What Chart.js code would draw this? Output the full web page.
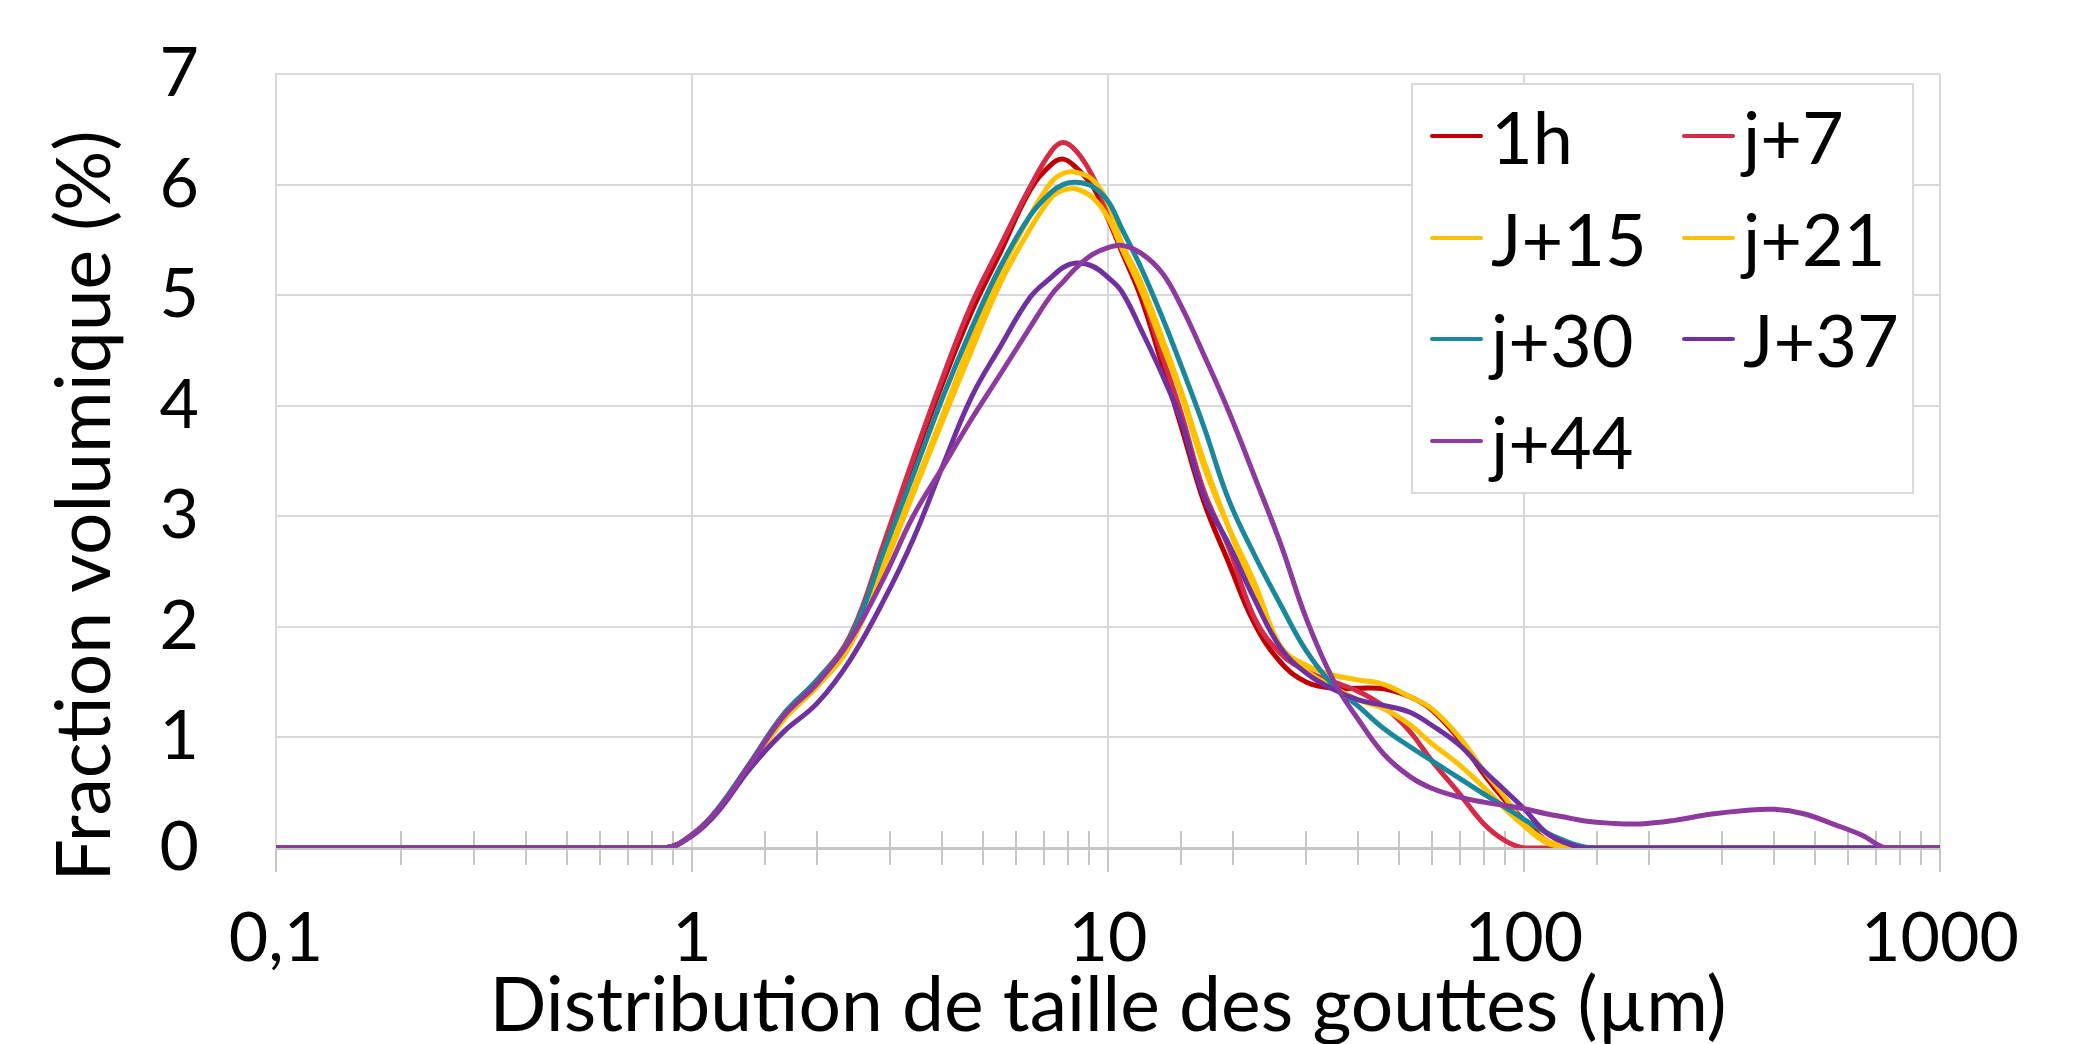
<!DOCTYPE html>
<html lang="fr">
<head>
  <meta charset="utf-8">
  <title>Distribution de taille des gouttes</title>
  <script type="text/javascript" src="https://cdn.jsdelivr.net/npm/chart.js@4"></script>
  <style type="text/css">
    html, body { margin:0; padding:0; background:#fff; }
    #wrap { position:relative; width:2082px; height:1044px; overflow:hidden; }
    #legend { position:absolute; left:1411px; top:83px; width:499px; height:407px; border:2px solid #D9D9D9; background:#fff;
              display:grid; grid-template-columns:252px 1fr; grid-auto-rows:101.75px; font-family:Lato; font-size:72px; color:#000; }
    .item { display:flex; align-items:center; padding-left:17px; white-space:nowrap; }
    .swatch { display:inline-block; width:53px; height:4px; border-radius:2px; margin-right:8px; }
  </style>
</head>
<body>
<div id="wrap">
  <canvas id="chart" width="2082" height="1044"></canvas>
  <div id="legend"></div>
</div>

<script type="text/javascript">
  // taille des gouttes (µm)
  const tailles = [0.1, 0.5, 0.86, 1, 1.15, 1.38, 1.66, 2, 2.4, 2.9,
    3.4, 4, 4.7, 5.5, 6.5, 7.3, 7.8, 8.4, 9.2, 10,
    10.8, 12, 13.5, 15, 17, 19.5, 22.5, 26, 30, 35,
    40, 46, 53, 60, 70, 80, 90, 100, 113, 125,
    140, 160, 190, 230, 280, 340, 400, 470, 560, 650, 745, 1000];

  // fraction volumique (%)
  const h1 = [0, 0, 0, 0.12, 0.34, 0.76, 1.2, 1.5, 1.9, 2.74,
    3.48, 4.2, 4.85, 5.38, 5.95, 6.18, 6.23, 6.15, 5.98, 5.69,
    5.39, 4.98, 4.37, 3.81, 3.13, 2.58, 2.03, 1.68, 1.5, 1.445,
    1.445, 1.44, 1.37, 1.25, 0.98, 0.67, 0.43, 0.25, 0.07, 0.01,
    0, 0, 0, 0, 0, 0, 0, 0, 0, 0, 0, 0];
  const j7 = [0, 0, 0, 0.12, 0.34, 0.77, 1.21, 1.52, 1.92, 2.77,
    3.52, 4.25, 4.92, 5.44, 5.98, 6.3, 6.38, 6.3, 6.07, 5.75,
    5.45, 5.04, 4.45, 3.93, 3.23, 2.72, 2.08, 1.76, 1.6, 1.5,
    1.415, 1.28, 1.06, 0.79, 0.49, 0.22, 0.067, 0, 0, 0,
    0, 0, 0, 0, 0, 0, 0, 0, 0, 0, 0, 0];
  const j15 = [0, 0, 0, 0.12, 0.34, 0.74, 1.16, 1.47, 1.85, 2.6,
    3.24, 3.91, 4.6, 5.2, 5.72, 6.02, 6.1, 6.11, 6.04, 5.83,
    5.47, 5.12, 4.61, 4.13, 3.5, 2.9, 2.3, 1.82, 1.65, 1.56,
    1.52, 1.48, 1.37, 1.26, 1.0, 0.7, 0.46, 0.22, 0.07, 0.02,
    0, 0, 0, 0, 0, 0, 0, 0, 0, 0, 0, 0];
  const j21 = [0, 0, 0, 0.12, 0.34, 0.74, 1.16, 1.46, 1.83, 2.55,
    3.2, 3.86, 4.5, 5.1, 5.6, 5.88, 5.95, 5.96, 5.88, 5.7,
    5.42, 5.05, 4.55, 4.1, 3.45, 2.9, 2.4, 1.82, 1.6, 1.45,
    1.34, 1.26, 1.12, 0.945, 0.75, 0.55, 0.355, 0.2, 0.05, 0.01,
    0, 0, 0, 0, 0, 0, 0, 0, 0, 0, 0, 0];
  const j30 = [0, 0, 0, 0.12, 0.35, 0.77, 1.21, 1.52, 1.9, 2.7,
    3.37, 4.07, 4.7, 5.25, 5.72, 5.93, 6.0, 6.02, 5.98, 5.85,
    5.6, 5.25, 4.8, 4.36, 3.81, 3.15, 2.65, 2.2, 1.78, 1.46,
    1.28, 1.08, 0.92, 0.79, 0.63, 0.49, 0.37, 0.26, 0.14, 0.067,
    0.01, 0, 0, 0, 0, 0, 0, 0, 0, 0, 0, 0];
  const j37 = [0, 0, 0, 0.11, 0.32, 0.72, 1.05, 1.31, 1.7, 2.25,
    2.79, 3.45, 4.08, 4.53, 4.98, 5.16, 5.25, 5.29, 5.26, 5.16,
    5.03, 4.69, 4.28, 3.86, 3.18, 2.75, 2.25, 1.81, 1.58, 1.43,
    1.34, 1.29, 1.23, 1.11, 0.93, 0.7, 0.52, 0.355, 0.14, 0.05,
    0, 0, 0, 0, 0, 0, 0, 0, 0, 0, 0, 0];
  const j44 = [0, 0, 0, 0.12, 0.34, 0.76, 1.19, 1.49, 1.88, 2.45,
    3.0, 3.44, 3.88, 4.28, 4.71, 5.0, 5.12, 5.25, 5.37, 5.43,
    5.45, 5.38, 5.2, 4.9, 4.46, 3.95, 3.36, 2.75, 2.07, 1.5,
    1.16, 0.85, 0.65, 0.54, 0.46, 0.415, 0.385, 0.355, 0.31, 0.28,
    0.245, 0.225, 0.218, 0.25, 0.305, 0.34, 0.35, 0.31, 0.21, 0.115, 0, 0];

  const labels = ['1h', 'j+7', 'J+15', 'j+21', 'j+30', 'J+37', 'j+44'];
  const values = [h1, j7, j15, j21, j30, j37, j44];
  const colors = ['#C00000', '#D62B48', '#FFC000', '#FFC000', '#1A889C', '#7030A0', '#8E399D'];

  const FONT = 'Lato';
  const isDecade = v => Math.abs(Math.log10(v) - Math.round(Math.log10(v))) < 1e-9;

  // petites graduations de l'axe des x, de part et d'autre de l'axe
  const minorTicks = {
    id: 'minorTicks',
    beforeDatasetsDraw(chart) {
      const xs = chart.scales.x;
      const y0 = chart.scales.y.getPixelForValue(0);
      const c = chart.ctx;
      c.save();
      c.strokeStyle = '#C6C6C6';
      c.lineWidth = 2;
      xs.ticks.forEach(t => {
        if (isDecade(t.value)) return;
        const px = Math.round(xs.getPixelForValue(t.value));
        c.beginPath();
        c.moveTo(px, y0 - 17);
        c.lineTo(px, y0 + 17);
        c.stroke();
      });
      c.restore();
    }
  };

  // titre de l'axe vertical (décalé vers le bas comme dans l'original)
  const yTitle = {
    id: 'yTitle',
    afterDraw(chart) {
      const c = chart.ctx;
      c.save();
      c.translate(86, 506);
      c.rotate(-Math.PI / 2);
      c.font = '75px ' + FONT;
      c.fillStyle = '#000';
      c.textAlign = 'center';
      c.textBaseline = 'middle';
      c.fillText('Fraction volumique (%)', 0, 0);
      c.restore();
    }
  };

  const datasets = labels.map((label, i) => ({
    label,
    data: tailles.map((x, k) => ({ x, y: values[i][k] })),
    borderColor: colors[i],
    backgroundColor: colors[i],
    borderWidth: 5,
    pointRadius: 0,
    fill: false,
    tension: 0.4,
    order: labels.length - i
  }));

  const chart = new Chart(document.getElementById('chart'), {
    type: 'line',
    data: { datasets },
    plugins: [minorTicks, yTitle],
    options: {
      responsive: false,
      animation: false,
      devicePixelRatio: 1,
      layout: { padding: { top: 74, right: 142, left: 0, bottom: 0 } },
      plugins: { legend: { display: false }, tooltip: { enabled: false } },
      scales: {
        x: {
          type: 'logarithmic',
          min: 0.1,
          max: 1000,
          afterFit: s => { s.height = 196; },
          grid: {
            color: c => isDecade(c.tick.value) ? '#D9D9D9' : 'rgba(0,0,0,0)',
            tickColor: c => isDecade(c.tick.value) ? '#C6C6C6' : 'rgba(0,0,0,0)',
            lineWidth: 2,
            tickLength: 24
          },
          border: { color: '#C6C6C6', width: 3 },
          ticks: {
            autoSkip: false,
            maxRotation: 0,
            padding: 26,
            color: '#000',
            font: { family: FONT, size: 68 },
            callback: v => isDecade(v) ? (v < 1 ? String(v).replace('.', ',') : String(v)) : ''
          },
          title: {
            display: true,
            text: 'Distribution de taille des gouttes (µm)',
            color: '#000',
            font: { family: FONT, size: 75 },
            padding: { top: 0, bottom: -8 }
          }
        },
        y: {
          min: 0,
          max: 7,
          afterFit: s => { s.width = 276; },
          // espace entre les étiquettes et le graphique (tick invisible)
          grid: { color: '#D9D9D9', lineWidth: 2, drawTicks: true, tickLength: 77, tickColor: 'rgba(0,0,0,0)' },
          border: { color: '#D9D9D9', width: 2 },
          ticks: {
            stepSize: 1,
            padding: 0,
            color: '#000',
            font: { family: FONT, size: 68 }
          }
        }
      }
    }
  });

  // légende sur deux colonnes, construite à partir des séries
  const legend = document.getElementById('legend');
  chart.data.datasets.forEach(ds => {
    const item = document.createElement('div');
    item.className = 'item';
    const sw = document.createElement('span');
    sw.className = 'swatch';
    sw.style.background = ds.borderColor;
    item.appendChild(sw);
    item.appendChild(document.createTextNode(ds.label));
    legend.appendChild(item);
  });
</script>
</body>
</html>
